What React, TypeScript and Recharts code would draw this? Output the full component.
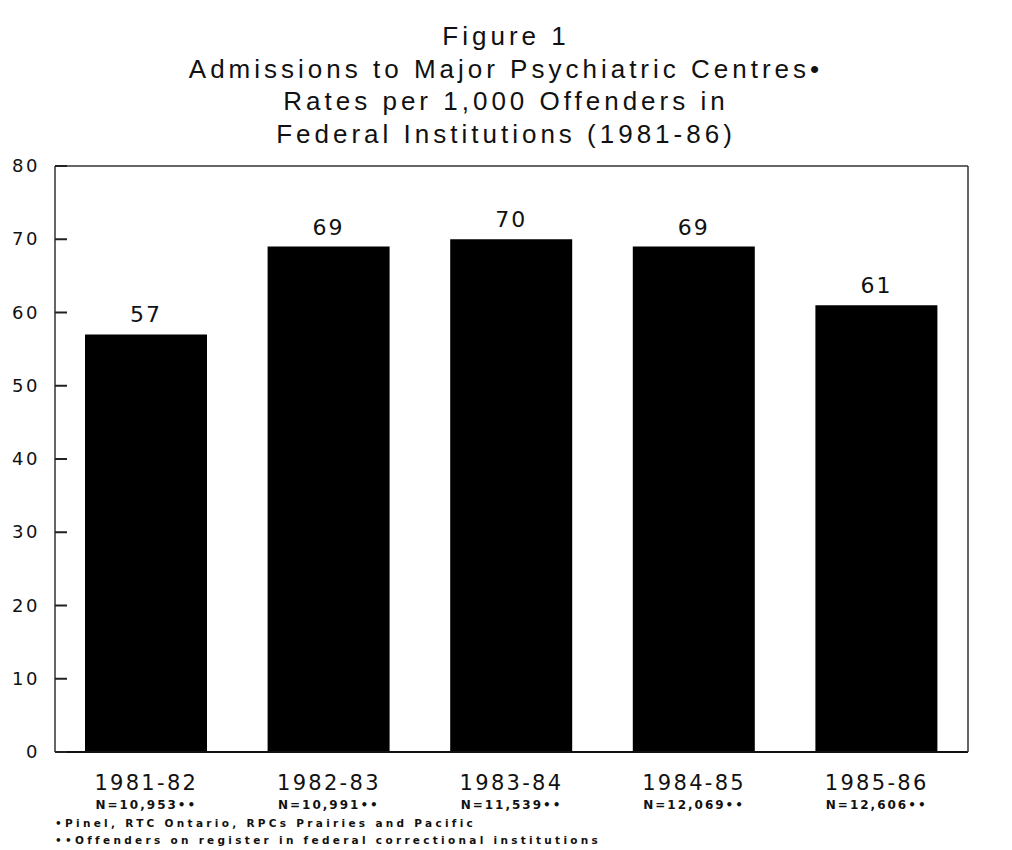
import React from "react";
import { Bar, BarChart, LabelList, ReferenceLine, XAxis, YAxis } from "recharts";

const years = ["1981-82", "1982-83", "1983-84", "1984-85", "1985-86"];
const rates = [57, 69, 70, 69, 61];
const offenders = ["N=10,953••", "N=10,991••", "N=11,539••", "N=12,069••", "N=12,606••"];
const yTicks = [0, 10, 20, 30, 40, 50, 60, 70, 80];

const titleLines = [
  "Figure 1",
  "Admissions to Major Psychiatric Centres•",
  "Rates per 1,000 Offenders in",
  "Federal Institutions (1981-86)",
];
const footnotes = [
  "•Pinel, RTC Ontario, RPCs Prairies and Pacific",
  "••Offenders on register in federal correctional institutions",
];

const data = years.map((year, i) => ({ year, rate: rates[i] }));

const numFont = "'DejaVu Sans', sans-serif";

// y tick: label outside the frame, short mark pointing into the plot
function SideTick(props: any) {
  const { x, y, payload, side } = props;
  const left = side === "left";
  const axisX = left ? x + 15 : x - 6;
  return (
    <g>
      <rect x={left ? axisX : axisX - 12} y={y - 1} width={12} height={2} fill="#222" />
      <text
        x={x}
        y={y}
        dy={6}
        textAnchor={left ? "end" : "start"}
        fontSize={18}
        fontFamily={numFont}
        fill="#111"
        letterSpacing={2.5}
      >
        {payload.value}
      </text>
    </g>
  );
}

function YearTick(props: any) {
  const { x, y, payload, index } = props;
  return (
    <g>
      <text x={x} y={y + 36} textAnchor="middle" fontSize={21} fontFamily={numFont} fill="#111" letterSpacing={2.3}>
        {payload.value}
      </text>
      <text x={x} y={y + 55} textAnchor="middle" fontSize={12} fontWeight="bold" fontFamily={numFont} fill="#111" letterSpacing={2}>
        {offenders[index]}
      </text>
    </g>
  );
}

export default function App() {
  return (
    <div style={{ position: "absolute", left: 0, top: 0, width: 1012, height: 850, background: "#fff" }}>
      <div
        style={{
          position: "absolute",
          left: 0,
          top: 20,
          width: 1012,
          textAlign: "center",
          fontFamily: "'Liberation Sans', Arial, sans-serif",
          fontSize: 26,
          letterSpacing: 4,
          lineHeight: "32.5px",
          color: "#111",
        }}
      >
        {titleLines.map((t) => (
          <div key={t}>{t}</div>
        ))}
      </div>
      <BarChart
        width={1012}
        height={850}
        data={data}
        margin={{ top: 166, right: 4, bottom: 68, left: 15 }}
        style={{ position: "absolute", left: 0, top: 0 }}
      >
        <XAxis
          dataKey="year"
          axisLine={{ stroke: "#111", strokeWidth: 2 }}
          tickLine={false}
          tickSize={0}
          tick={<YearTick />}
          height={30}
          interval={0}
        />
        <YAxis
          yAxisId="left"
          domain={[0, 80]}
          ticks={yTicks}
          width={40}
          tickSize={0}
          tickMargin={15}
          tickLine={false}
          axisLine={{ stroke: "#333", strokeWidth: 1.5 }}
          tick={<SideTick side="left" />}
        />
        <YAxis
          yAxisId="right"
          orientation="right"
          domain={[0, 80]}
          ticks={yTicks}
          width={40}
          tickSize={0}
          tickMargin={6}
          tickLine={false}
          axisLine={{ stroke: "#333", strokeWidth: 1.5 }}
          tick={<SideTick side="right" />}
        />
        <ReferenceLine yAxisId="left" y={80} stroke="#333" strokeWidth={1.5} />
        <Bar yAxisId="left" dataKey="rate" fill="#000" barSize={122} isAnimationActive={false}>
          <LabelList
            dataKey="rate"
            position="top"
            offset={12}
            fontSize={22}
            fontFamily={numFont}
            fill="#111"
            letterSpacing={2}
          />
        </Bar>
      </BarChart>
      <div
        style={{
          position: "absolute",
          left: 55,
          top: 815,
          fontFamily: numFont,
          fontSize: 10.5,
          fontWeight: "bold",
          letterSpacing: 3.3,
          lineHeight: "17px",
          color: "#111",
          whiteSpace: "nowrap",
        }}
      >
        {footnotes.map((t) => (
          <div key={t}>{t}</div>
        ))}
      </div>
    </div>
  );
}
